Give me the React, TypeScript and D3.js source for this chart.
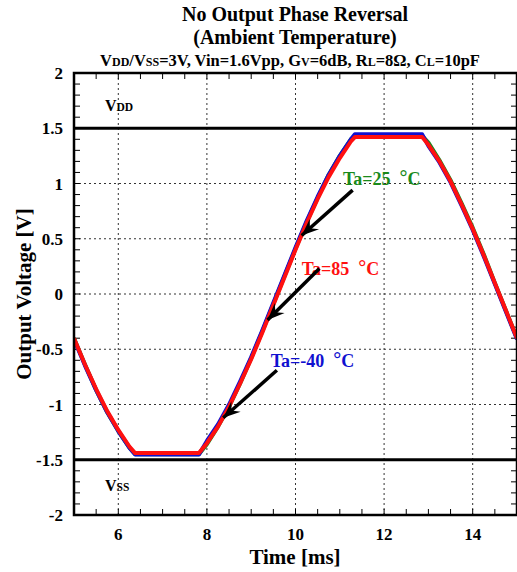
import React from "react";
import * as d3 from "d3";

const timeMs = [5, 5.25, 5.5, 5.75, 6, 6.25, 6.38, 7.82, 8, 8.25, 8.5, 8.75, 9, 9.25, 9.5, 9.75, 10, 10.25, 10.5, 10.75, 11, 11.25, 11.34, 12.86, 13, 13.25, 13.5, 13.75, 14, 14.25, 14.5, 14.75, 15];
const vMinus40 = [-0.41, -0.65, -0.87, -1.07, -1.24, -1.39, -1.452, -1.452, -1.33, -1.18, -1.0, -0.79, -0.57, -0.33, -0.08, 0.17, 0.42, 0.66, 0.88, 1.08, 1.25, 1.4, 1.445, 1.445, 1.34, 1.19, 1.01, 0.8, 0.58, 0.34, 0.09, -0.16, -0.41];
const v25 = [-0.4, -0.64, -0.87, -1.07, -1.24, -1.39, -1.45, -1.45, -1.36, -1.2, -1.02, -0.81, -0.58, -0.34, -0.09, 0.16, 0.41, 0.65, 0.87, 1.08, 1.25, 1.4, 1.43, 1.43, 1.37, 1.21, 1.03, 0.82, 0.6, 0.36, 0.1, -0.15, -0.4];
const v85 = [-0.4, -0.64, -0.86, -1.06, -1.23, -1.38, -1.44, -1.44, -1.35, -1.2, -1.02, -0.81, -0.59, -0.35, -0.1, 0.15, 0.4, 0.64, 0.86, 1.06, 1.23, 1.38, 1.42, 1.42, 1.35, 1.2, 1.02, 0.81, 0.59, 0.35, 0.1, -0.15, -0.4];

const xTicks = [6, 8, 10, 12, 14];
const yTicks = [-2, -1.5, -1, -0.5, 0, 0.5, 1, 1.5, 2];
const supplyLevels = [1.5, -1.5];

const series = [
  { name: "Ta=25", values: v25, color: "#1a8a1a" },
  { name: "Ta=-40", values: vMinus40, color: "#1010d0" },
  { name: "Ta=85", values: v85, color: "#ff1010" },
];

const annotations = [
  { text: "Ta=25", color: "#1a8a1a", lx: 11.07, ly: 0.99, x0: 11.29, y0: 0.94, x1: 10.14, y1: 0.53 },
  { text: "Ta=85", color: "#ff1010", lx: 10.14, ly: 0.17, x0: 10.54, y0: 0.23, x1: 9.37, y1: -0.235 },
  { text: "Ta=-40", color: "#1010d0", lx: 9.44, ly: -0.66, x0: 9.58, y0: -0.69, x1: 8.37, y1: -1.12 },
];

const W = 517, H = 572;
const L = 74, R = 517, T = 73, B = 515;
const FONT = "'Liberation Serif', 'Times New Roman', serif";

export default function App() {
  const x = d3.scaleLinear().domain([5, 15]).range([L, R]);
  const y = d3.scaleLinear().domain([-2, 2]).range([B, T]);
  const line = d3.line<number>().x((_, i) => x(timeMs[i])).y((d) => y(d));

  const xMinor = d3.range(5, 15.01, 0.5);
  const yMinor = d3.range(-2, 2.001, 0.1);

  const arrowHead = (x0: number, y0: number, x1: number, y1: number) => {
    const ang = Math.atan2(y1 - y0, x1 - x0);
    const len = 17, hw = 7, notch = 11;
    const c = Math.cos(ang), s = Math.sin(ang);
    const p = (a: number, b: number) => [x1 - a * c + b * -s, y1 - a * s + b * c];
    const pts = [p(0, 0), p(len, hw), p(notch, 0), p(len, -hw)];
    return pts.map((q) => q.join(",")).join(" ");
  };

  return (
    <svg width={W} height={H} style={{ position: "absolute", left: 0, top: 0, background: "#fff" }} fontFamily={FONT}>
      <rect width={W} height={H} fill="#fff" />
      {/* titles */}
      <text x={295} y={21} textAnchor="middle" fontSize={20} fontWeight="bold">No Output Phase Reversal</text>
      <text x={295} y={44} textAnchor="middle" fontSize={20} fontWeight="bold">(Ambient Temperature)</text>
      <text x={290} y={66} textAnchor="middle" fontSize={16.5} fontWeight="bold">
        V<tspan fontSize={12}>DD</tspan>/V<tspan fontSize={12}>SS</tspan>=3V, Vin=1.6Vpp, G<tspan fontSize={12}>V</tspan>=6dB, R<tspan fontSize={12}>L</tspan>=8Ω, C<tspan fontSize={12}>L</tspan>=10pF
      </text>

      {/* grid */}
      {xTicks.map((t) => (
        <line key={"gx" + t} x1={x(t)} x2={x(t)} y1={T} y2={B} stroke="#333" strokeWidth={1} strokeDasharray="2,3" />
      ))}
      {yTicks.filter((t) => t > -2 && t < 2 && Math.abs(t) !== 1.5).map((t) => (
        <line key={"gy" + t} x1={L} x2={R} y1={y(t)} y2={y(t)} stroke="#333" strokeWidth={1} strokeDasharray="2,3" />
      ))}

      {/* minor ticks */}
      {xMinor.map((t, i) => (
        <g key={"mx" + i}>
          <line x1={x(t)} x2={x(t)} y1={B} y2={B - 6} stroke="#000" strokeWidth={1} />
          <line x1={x(t)} x2={x(t)} y1={T} y2={T + 6} stroke="#000" strokeWidth={1} />
        </g>
      ))}
      {yMinor.map((t, i) => (
        <g key={"my" + i}>
          <line x1={L} x2={L + 6} y1={y(t)} y2={y(t)} stroke="#000" strokeWidth={1} />
          <line x1={R} x2={R - 6} y1={y(t)} y2={y(t)} stroke="#000" strokeWidth={1} />
        </g>
      ))}

      {/* supply lines */}
      {supplyLevels.map((v) => (
        <line key={"s" + v} x1={L} x2={R} y1={y(v)} y2={y(v)} stroke="#000" strokeWidth={3} />
      ))}
      <text x={105} y={y(1.5) - 17} fontSize={16} fontWeight="bold">V<tspan fontSize={11.5}>DD</tspan></text>
      <text x={105} y={y(-1.5) + 31} fontSize={16} fontWeight="bold">V<tspan fontSize={11.5}>SS</tspan></text>

      {/* curves */}
      <defs>
        <clipPath id="plotclip"><rect x={L} y={T} width={R - L} height={B - T} /></clipPath>
      </defs>
      <g clipPath="url(#plotclip)">
        {series.map((s) => (
          <path key={s.name} d={line(s.values) || ""} fill="none" stroke={s.color} strokeWidth={4} strokeLinejoin="round" />
        ))}
      </g>

      {/* annotations */}
      {annotations.map((a) => (
        <g key={a.text}>
          <text x={x(a.lx)} y={y(a.ly)} fontSize={18} fontWeight="bold" fill={a.color} style={{ whiteSpace: "pre" }}>
            {a.text + "  "}<tspan fontSize={20} dy={-1}>°</tspan><tspan dy={1}>C</tspan>
          </text>
          <line x1={x(a.x0)} y1={y(a.y0)} x2={x(a.x1)} y2={y(a.y1)} stroke="#000" strokeWidth={3.5} />
          <polygon points={arrowHead(x(a.x0), y(a.y0), x(a.x1), y(a.y1))} fill="#000" />
        </g>
      ))}

      {/* frame */}
      <rect x={L} y={T} width={R - L} height={B - T} fill="none" stroke="#000" strokeWidth={2.5} />

      {/* tick labels */}
      {yTicks.map((t) => (
        <text key={"ly" + t} x={63} y={y(t) + 6} textAnchor="end" fontSize={17} fontWeight="bold">{t}</text>
      ))}
      {xTicks.map((t) => (
        <text key={"lx" + t} x={x(t)} y={540} textAnchor="middle" fontSize={17} fontWeight="bold">{t}</text>
      ))}

      {/* axis labels */}
      <text x={295} y={564} textAnchor="middle" fontSize={21} fontWeight="bold">Time [ms]</text>
      <text transform={`translate(31,${(T + B) / 2}) rotate(-90)`} textAnchor="middle" fontSize={21} fontWeight="bold">Output Voltage [V]</text>
    </svg>
  );
}
